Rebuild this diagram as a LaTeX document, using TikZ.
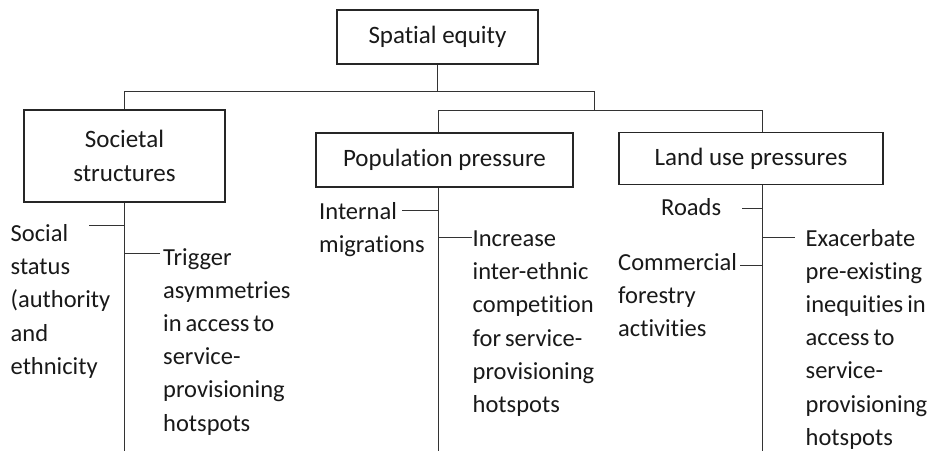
\documentclass[tikz,border=0pt]{standalone}
\usepackage{fontspec}
\setmainfont[Ligatures={NoCommon}]{Carlito}
\begin{document}
\begin{tikzpicture}[x=1pt,y=-1pt,
  every node/.style={inner sep=0pt, text=black!90},
  txt/.style={font=\fontsize{24.5}{33.2}\selectfont, execute at begin node={\spaceskip=4pt\relax}},
  topic/.style={draw=black!85, line width=1.1pt, font=\fontsize{25}{34}\selectfont, align=center},
  lbl/.style={txt, anchor=base west, align=left, text width=#1},
  conn/.style={draw=black!80, line width=1pt}
]
% page area
\fill[white] (0,0) rectangle (928,451);
\useasboundingbox (0,0) rectangle (928,451);

% topic boxes
\node[topic, minimum width=201pt, minimum height=54pt] (equity) at (437.5,37) {Spatial equity};
\node[topic, minimum width=201pt, minimum height=92pt] (societal) at (124.5,156) {Societal\\structures};
\node[topic, minimum width=257pt, minimum height=54pt] (population) at (444.5,160) {Population pressure};
\node[topic, minimum width=264pt, minimum height=52pt] (landuse) at (751,158.5) {Land use pressures};

% bus lines between the boxes
\coordinate (busA) at (594,91);
\coordinate (busB) at (438,110);
\coordinate (busC) at (762,110);
\draw[conn] (equity.south) -- (equity.south |- busA);
\draw[conn] (societal.north) |- (busA) -- (busA |- busB);
\draw[conn] (population.north -| busB) |- (busC) -- (landuse.north -| busC);

% trunks running down from each box
\coordinate (endA) at (124.5,451);
\coordinate (endB) at (438,451);
\coordinate (endC) at (762,451);
\draw[conn] (societal.south) -- (endA);
\draw[conn] (population.south -| endB) -- (endB);
\draw[conn] (landuse.south -| endC) -- (endC);

% side branches
\coordinate (social) at (89,225);
\coordinate (trigger) at (160,253);
\coordinate (internal) at (402,210);
\coordinate (increase) at (472,237);
\coordinate (roads) at (742,208);
\coordinate (exacerbate) at (795,237);
\coordinate (commercial) at (740,265);
\draw[conn] (social) -- (social -| endA);
\draw[conn] (trigger -| endA) -- (trigger);
\draw[conn] (internal) -- (internal -| endB);
\draw[conn] (increase -| endB) -- (increase);
\draw[conn] (roads) -- (roads -| endC);
\draw[conn] (exacerbate -| endC) -- (exacerbate);
\draw[conn] (commercial) -- (commercial -| endC);

% branch texts
\node[lbl=120pt] (socialtxt) at (10.5,241.5) {Social\\status\\(authority\\and\\ethnicity};
\node[lbl=150pt] (triggertxt) at (163,265) {Trigger\\asymmetries\\in access to\\service-\\provisioning\\hotspots};
\node[lbl=120pt] (internaltxt) at (319,219) {Internal\\migrations};
\node[lbl=150pt] (increasetxt) at (472.5,246.5) {Increase\\inter-ethnic\\competition\\for service-\\provisioning\\hotspots};
\node[lbl=80pt] (roadstxt) at (661,215) {Roads};
\node[lbl=120pt] (commercialtxt) at (618,270) {Commercial\\forestry\\activities};
\node[lbl=130pt] (exacerbatetxt) at (805.5,246) {Exacerbate\\pre-existing\\inequities in\\access to\\service-\\provisioning\\hotspots};
\end{tikzpicture}
\end{document}
